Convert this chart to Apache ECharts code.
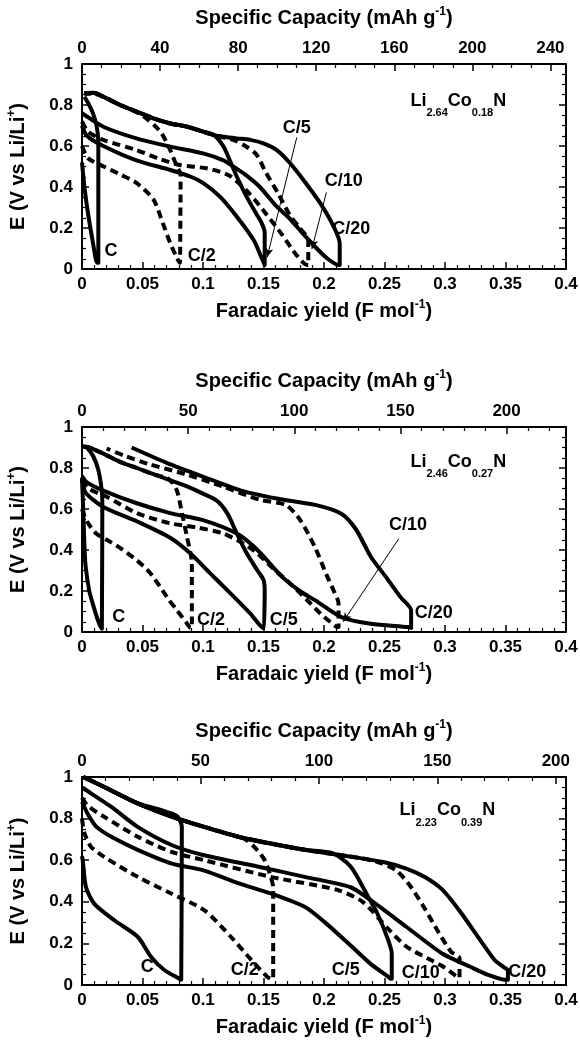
<!DOCTYPE html>
<html><head><meta charset="utf-8">
<script src="https://cdn.jsdelivr.net/npm/echarts/dist/echarts.min.js"></script>
<style>html,body{margin:0;padding:0;background:#fff}#c{width:580px;height:1043px}</style>
</head><body><div id="c"></div>
<script>
// ---------- data (Faradaic yield, E) ----------
// Panel 1: Li2.64Co0.18N
const p1_C   = [[0,0.52],[0.002,0.40],[0.005,0.27],[0.009,0.13],[0.0125,0.03],[0.0135,0.03],[0.0135,0.62],[0.012,0.70],[0.009,0.76],[0.005,0.81],[0.002,0.84]];
const p1_C2  = [[0,0.60],[0.005,0.54],[0.018,0.50],[0.032,0.46],[0.045,0.42],[0.059,0.34],[0.067,0.22],[0.073,0.125],[0.078,0.06],[0.081,0.03],[0.0815,0.03],[0.0815,0.46],[0.0784,0.50],[0.0729,0.58],[0.066,0.66],[0.06,0.70],[0.052,0.74],[0.045,0.765],[0.0315,0.80],[0.0177,0.84],[0.0094,0.855],[0.002,0.855]];
const p1_C5  = [[0,0.70],[0.004,0.65],[0.0176,0.60],[0.045,0.53],[0.073,0.483],[0.09,0.45],[0.1,0.42],[0.114,0.353],[0.128,0.255],[0.142,0.14],[0.148,0.06],[0.151,0.02],[0.151,0.18],[0.148,0.23],[0.145,0.26],[0.136,0.353],[0.128,0.45],[0.122,0.532],[0.117,0.597],[0.109,0.653],[0.1,0.67],[0.087,0.694],[0.073,0.71],[0.059,0.735],[0.045,0.768],[0.0315,0.80],[0.0177,0.84],[0.0094,0.86],[0.002,0.857]];
const p1_C10 = [[0,0.72],[0.005,0.67],[0.0176,0.63],[0.045,0.58],[0.065,0.535],[0.081,0.507],[0.104,0.49],[0.122,0.455],[0.138,0.37],[0.152,0.27],[0.165,0.17],[0.177,0.07],[0.186,0.02],[0.187,0.02],[0.187,0.14],[0.18,0.20],[0.172,0.26],[0.162,0.37],[0.152,0.47],[0.144,0.56],[0.135,0.60],[0.125,0.63],[0.115,0.645],[0.1,0.67],[0.087,0.694],[0.073,0.71],[0.059,0.735],[0.045,0.768],[0.0315,0.80],[0.0177,0.84],[0.0094,0.86],[0.002,0.857]];
const p1_C20 = [[0,0.76],[0.0025,0.75],[0.0176,0.694],[0.045,0.637],[0.073,0.597],[0.1,0.564],[0.117,0.53],[0.125,0.50],[0.135,0.46],[0.147,0.40],[0.16,0.31],[0.171,0.25],[0.183,0.17],[0.193,0.106],[0.203,0.05],[0.212,0.02],[0.213,0.02],[0.213,0.125],[0.208,0.207],[0.197,0.32],[0.183,0.434],[0.172,0.516],[0.161,0.58],[0.15,0.613],[0.139,0.63],[0.128,0.637],[0.117,0.645],[0.109,0.653],[0.1,0.67],[0.087,0.694],[0.073,0.71],[0.059,0.735],[0.045,0.768],[0.0315,0.80],[0.0177,0.84],[0.0094,0.86],[0.002,0.857]];
// Panel 2: Li2.46Co0.27N
const p2_C   = [[0,0.75],[0.001,0.60],[0.002,0.42],[0.003,0.32],[0.006,0.20],[0.0088,0.14],[0.013,0.06],[0.0164,0.016],[0.0168,0.016],[0.0168,0.62],[0.0163,0.69],[0.0135,0.79],[0.0094,0.856],[0.004,0.90],[0.001,0.905]];
const p2_C2  = [[0,0.60],[0.004,0.54],[0.0118,0.48],[0.0204,0.45],[0.0302,0.415],[0.0453,0.35],[0.056,0.29],[0.0646,0.22],[0.072,0.155],[0.0784,0.107],[0.0867,0.042],[0.09,0.02],[0.0908,0.02],[0.0908,0.335],[0.0867,0.465],[0.0826,0.58],[0.0784,0.69],[0.072,0.745],[0.059,0.77],[0.0453,0.80],[0.0315,0.83],[0.0176,0.87],[0.006,0.90],[0.001,0.905]];
const p2_C5  = [[0,0.75],[0.003,0.68],[0.0176,0.61],[0.0453,0.54],[0.0729,0.46],[0.0894,0.384],[0.106,0.286],[0.1225,0.19],[0.139,0.091],[0.1505,0.018],[0.151,0.018],[0.151,0.20],[0.15,0.254],[0.145,0.30],[0.136,0.385],[0.128,0.48],[0.12,0.58],[0.1115,0.64],[0.1,0.675],[0.0867,0.71],[0.0729,0.74],[0.059,0.77],[0.0453,0.80],[0.0315,0.83],[0.0176,0.87],[0.006,0.90],[0.001,0.905]];
const p2_C10 = [[0,0.74],[0.005,0.70],[0.0204,0.66],[0.0453,0.58],[0.0729,0.53],[0.095,0.51],[0.117,0.48],[0.1336,0.43],[0.1447,0.385],[0.156,0.32],[0.172,0.237],[0.186,0.156],[0.197,0.09],[0.205,0.05],[0.211,0.025],[0.212,0.025],[0.212,0.14],[0.2081,0.20],[0.202,0.28],[0.1928,0.41],[0.1805,0.545],[0.1683,0.62],[0.1468,0.645],[0.1161,0.71],[0.0854,0.77],[0.0547,0.82],[0.035,0.86],[0.0204,0.895]];
const p2_C20 = [[0,0.76],[0.004,0.73],[0.0176,0.69],[0.0453,0.628],[0.0729,0.58],[0.1,0.546],[0.128,0.48],[0.145,0.40],[0.1652,0.27],[0.18,0.20],[0.1928,0.154],[0.2143,0.073],[0.2388,0.04],[0.2694,0.024],[0.272,0.02],[0.272,0.106],[0.2633,0.17],[0.251,0.27],[0.2388,0.366],[0.2265,0.50],[0.2143,0.577],[0.1928,0.62],[0.1621,0.65],[0.1315,0.69],[0.1008,0.756],[0.07,0.825],[0.041,0.90]];
// Panel 3: Li2.23Co0.39N
const p3_C   = [[0,0.62],[0.0006,0.60],[0.0033,0.47],[0.0102,0.39],[0.027,0.31],[0.046,0.232],[0.057,0.136],[0.068,0.072],[0.08,0.032],[0.082,0.025],[0.0825,0.025],[0.0825,0.76],[0.079,0.81],[0.071,0.83],[0.06,0.85],[0.046,0.873],[0.018,0.953],[0.001,1.0]];
const p3_C2  = [[0,0.80],[0.002,0.73],[0.0074,0.665],[0.018,0.617],[0.046,0.52],[0.0736,0.44],[0.101,0.36],[0.123,0.232],[0.14,0.12],[0.153,0.04],[0.157,0.03],[0.158,0.03],[0.158,0.47],[0.156,0.52],[0.151,0.60],[0.143,0.66],[0.135,0.70],[0.129,0.713],[0.101,0.76],[0.074,0.81],[0.046,0.873],[0.018,0.953],[0.001,1.0]];
const p3_C5  = [[0,0.88],[0.005,0.82],[0.012,0.76],[0.025,0.71],[0.046,0.65],[0.0736,0.585],[0.101,0.55],[0.129,0.49],[0.156,0.44],[0.184,0.376],[0.201,0.30],[0.222,0.19],[0.238,0.104],[0.253,0.04],[0.255,0.03],[0.256,0.03],[0.256,0.15],[0.253,0.217],[0.244,0.345],[0.235,0.44],[0.222,0.57],[0.207,0.634],[0.184,0.65],[0.156,0.68],[0.129,0.713],[0.101,0.76],[0.074,0.81],[0.046,0.873],[0.018,0.953],[0.001,1.0]];
const p3_C10 = [[0,0.90],[0.005,0.86],[0.018,0.81],[0.046,0.713],[0.074,0.64],[0.101,0.60],[0.156,0.52],[0.211,0.457],[0.232,0.40],[0.253,0.27],[0.268,0.185],[0.285,0.13],[0.298,0.09],[0.31,0.04],[0.312,0.035],[0.312,0.13],[0.305,0.16],[0.295,0.25],[0.283,0.37],[0.272,0.47],[0.26,0.55],[0.245,0.59],[0.23,0.61],[0.207,0.63],[0.184,0.65],[0.156,0.68],[0.129,0.713],[0.101,0.76],[0.074,0.81],[0.046,0.873],[0.018,0.953],[0.001,1.0]];
const p3_C20 = [[0,0.95],[0.001,0.946],[0.024,0.857],[0.046,0.76],[0.074,0.673],[0.1,0.625],[0.145,0.57],[0.184,0.52],[0.222,0.47],[0.238,0.41],[0.268,0.28],[0.298,0.15],[0.32,0.09],[0.335,0.05],[0.35,0.025],[0.352,0.025],[0.352,0.07],[0.348,0.088],[0.341,0.12],[0.329,0.217],[0.3135,0.345],[0.298,0.457],[0.283,0.52],[0.268,0.56],[0.25,0.59],[0.23,0.61],[0.207,0.63],[0.184,0.65],[0.156,0.68],[0.129,0.713],[0.101,0.76],[0.074,0.81],[0.046,0.873],[0.018,0.953],[0.001,1.0]];

// rate labels [text, x, y]
const p1_labels = [["C",0.024,0.09],["C/2",0.099,0.065],["C/5",0.1775,0.69],["C/10",0.2164,0.43],["C/20",0.2226,0.195]];
const p2_labels = [["C",0.0304,0.073],["C/2",0.1066,0.057],["C/5",0.1668,0.057],["C/10",0.2694,0.52],["C/20",0.2908,0.093]];
const p3_labels = [["C",0.054,0.088],["C/2",0.1345,0.072],["C/5",0.218,0.072],["C/10",0.28,0.056],["C/20",0.368,0.064]];
// arrows [x1,y1,x2,y2]
const p1_arrows = [[0.1775,0.642,0.153,0.057],[0.202,0.374,0.19,0.098]];
const p2_arrows = [[0.2618,0.455,0.2158,0.05]];
// compositions [Li, Co] and label position
const compositions = [["2.64","0.18"],["2.46","0.27"],["2.23","0.39"]];
const compPos = [[0.311,0.82],[0.311,0.83],[0.302,0.84]];
// axis ticks
const yieldTicks = [0,0.05,0.1,0.15,0.2,0.25,0.3,0.35,0.4];
const eTicks = [0,0.2,0.4,0.6,0.8,1];
const capInterval = [40,50,50];
const capMax = [248,228,204.3];

// ---------- build ----------
const FONT = 'Liberation Sans';
const curves = [
  [p1_C,p1_C2,p1_C5,p1_C10,p1_C20],
  [p2_C,p2_C2,p2_C5,p2_C10,p2_C20],
  [p3_C,p3_C2,p3_C5,p3_C10,p3_C20]
];
const dashed = [false,true,false,true,false];
const labels = [p1_labels,p2_labels,p3_labels];
const arrows = [p1_arrows,p2_arrows,[]];
const grids = [
  {left:82,right:14,top:64,height:205},
  {left:82,right:14,top:427,height:205},
  {left:82,right:14,top:777,height:208}
];
const tickFont = {color:'#000',fontFamily:FONT,fontWeight:'bold',fontSize:17};
const nameRich = {
  n:{fontFamily:FONT,fontWeight:'bold',fontSize:20,color:'#000',lineHeight:24},
  s:{fontFamily:FONT,fontWeight:'bold',fontSize:12,color:'#000',lineHeight:14,verticalAlign:'top'}
};
function axisCommon(){
  return {
    axisLine:{show:true,onZero:false,lineStyle:{color:'#000',width:2}},
    axisTick:{show:true,inside:true,length:7,lineStyle:{color:'#000',width:1.5}},
    splitLine:{show:false},
    minorSplitLine:{show:false}
  };
}
const minor = n => ({show:true,splitNumber:n,length:4,lineStyle:{color:'#000',width:1.2}});
const xAxes=[], yAxes=[], series=[];
for(let i=0;i<3;i++){
  const ci = capInterval[i];
  xAxes.push(Object.assign(axisCommon(),{
    type:'value',gridIndex:i,position:'bottom',min:yieldTicks[0],max:yieldTicks[yieldTicks.length-1],
    interval:yieldTicks[1]-yieldTicks[0],
    minorTick:minor(5),
    axisLabel:Object.assign({margin:7},tickFont),
    name:'{n|Faradaic yield (F mol}{s|-1}{n|)}',nameLocation:'middle',nameGap:30,
    nameTextStyle:{rich:nameRich}
  }));
  xAxes.push(Object.assign(axisCommon(),{
    type:'value',gridIndex:i,position:'top',min:0,max:capMax[i],interval:ci,
    minorTick:minor(ci===40?4:5),
    axisLabel:Object.assign({margin:7,formatter:function(v){const r=v/ci;return Math.abs(r-Math.round(r))<1e-6?String(Math.round(v)):'';}},tickFont),
    name:'{n|Specific Capacity (mAh g}{s|-1}{n|)}',nameLocation:'middle',nameGap:34,
    nameTextStyle:{rich:nameRich}
  }));
  yAxes.push(Object.assign(axisCommon(),{
    type:'value',gridIndex:i,position:'left',min:eTicks[0],max:eTicks[eTicks.length-1],interval:eTicks[1]-eTicks[0],
    minorTick:minor(4),
    axisLabel:Object.assign({margin:9},tickFont),
    name:'{n|E (V vs Li/Li}{s|+}{n|)}',nameLocation:'middle',nameGap:52,nameRotate:90,
    nameTextStyle:{rich:nameRich}
  }));
  yAxes.push(Object.assign(axisCommon(),{
    type:'value',gridIndex:i,position:'right',min:eTicks[0],max:eTicks[eTicks.length-1],interval:eTicks[1]-eTicks[0],
    minorTick:minor(4),
    axisLabel:{show:false}
  }));
  curves[i].forEach((d,k)=>{
    series.push({
      type:'line',xAxisIndex:2*i,yAxisIndex:2*i,data:d,showSymbol:false,symbol:'none',
      smooth:0.25,
      lineStyle:{color:'#000',width:4,type:dashed[k]?[8,5]:'solid',cap:'butt',join:'round'},
      z:2
    });
  });
  const lab = labels[i].map(l=>({value:[l[1],l[2]],name:l[0]}));
  const comp = compositions[i];
  lab.push({value:compPos[i],name:'comp',label:{
    formatter:'{m|Li}{b|'+comp[0]+'}{m|Co}{b|'+comp[1]+'}{m|N}',
    rich:{
      m:{fontFamily:FONT,fontWeight:'bold',fontSize:18,color:'#000',lineHeight:36},
      b:{fontFamily:FONT,fontWeight:'bold',fontSize:11,color:'#000',lineHeight:12,verticalAlign:'bottom'}
    }
  }});
  const s = {
    type:'scatter',xAxisIndex:2*i,yAxisIndex:2*i,data:lab,symbolSize:1,
    itemStyle:{color:'rgba(0,0,0,0)',opacity:1},
    label:{show:true,position:'inside',formatter:p=>p.name,color:'#000',opacity:1,fontFamily:FONT,fontWeight:'bold',fontSize:18},
    emphasis:{disabled:true},
    z:5
  };
  if(arrows[i].length){
    s.markLine = {
      silent:true,symbol:['none','arrow'],symbolSize:[6,9],
      label:{show:false},
      lineStyle:{color:'#000',width:1,type:'solid',opacity:1},
      data:arrows[i].map(a=>[{coord:[a[0],a[1]]},{coord:[a[2],a[3]]}])
    };
  }
  series.push(s);
}
const chart = echarts.init(document.getElementById('c'),null,{renderer:'canvas'});
chart.setOption({
  animation:false,
  backgroundColor:'#fff',
  grid:grids.map(g=>Object.assign({outerBoundsMode:'none',containLabel:false},g)),
  xAxis:xAxes,yAxis:yAxes,series:series
});
</script></body></html>
